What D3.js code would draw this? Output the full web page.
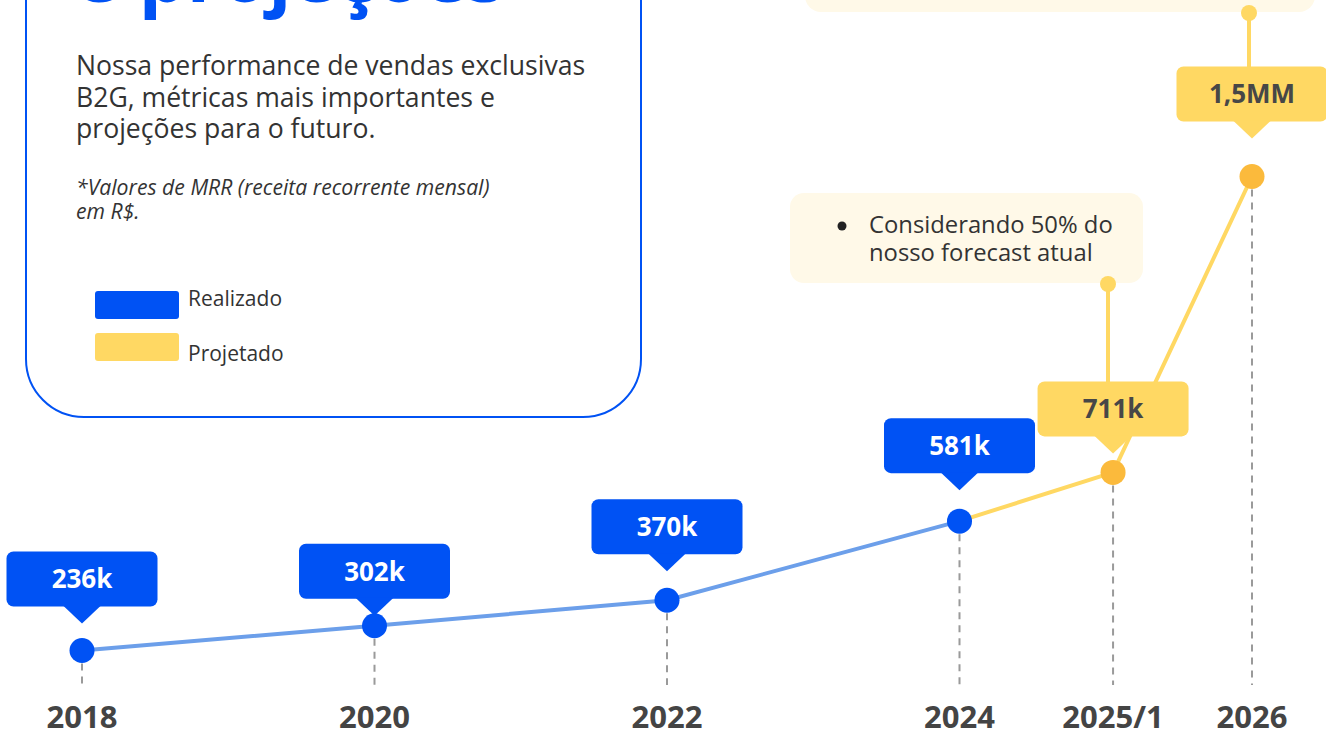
<!DOCTYPE html>
<html lang="pt-BR">
<head>
<meta charset="utf-8">
<script src="https://cdn.jsdelivr.net/npm/d3@7"></script>
<style>
  body { margin: 0; background: #fff; }
  svg { display: block; font-family: 'Open Sans', 'Noto Sans', sans-serif; }
</style>
</head>
<body>
<script>
// Dados do gráfico (MRR em milhares de R$)
const periods = ['2018', '2020', '2022', '2024', '2025/1', '2026'];
const periodTime = [2018, 2020, 2022, 2024, 2025.05, 2026];
const mrrValues = [236, 302, 370, 581, 711, 1500];
const mrrLabels = ['236k', '302k', '370k', '581k', '711k', '1,5MM'];
const status = ['real', 'real', 'real', 'real', 'proj', 'proj'];

const legendItems = ['Realizado', 'Projetado'];
const introLines = ['Nossa performance de vendas exclusivas', 'B2G, métricas mais importantes e', 'projeções para o futuro.'];
const noteLines = ['*Valores de MRR (receita recorrente mensal)', 'em R$.'];
const calloutLines = ['Considerando 50% do', 'nosso forecast atual'];

// layout dos rótulos (distância entre o ponto e a base da caixa)
const labelLift = [44, 27, 46, 48, 36, 55];

const WIDTH = 1326, HEIGHT = 730;
const BLUE = '#0052f4', YELLOW = '#ffd863', ORANGE = '#fbba3c', LIGHTBLUE = '#6c9fea',
    CREAM = '#fff9e8', DARK = '#333333';

const svg = d3.select('body')
    .append('svg')
        .attr('width', WIDTH)
        .attr('height', HEIGHT);

const x = d3.scaleLinear().domain([2018, 2026]).range([82, 1252]);
const y = d3.scaleLinear().domain([0, 1500]).range([739, 176.5]);

const data = periods.map((p, i) => ({
    period: p, t: periodTime[i], value: mrrValues[i], label: mrrLabels[i], status: status[i], lift: labelLift[i]
}));

// Painel da esquerda (título, texto e legenda)
svg.append('rect')
    .attr('x', 26).attr('y', -80)
    .attr('width', 615).attr('height', 497)
    .attr('rx', 58)
    .attr('fill', '#fff')
    .attr('stroke', BLUE)
    .attr('stroke-width', 2);

svg.append('text')
    .attr('x', 74).attr('y', 2)
    .attr('font-size', 76).attr('font-weight', 700)
    .attr('fill', BLUE)
    .text('e projeções');

svg.append('g').selectAll('text')
    .data(introLines)
    .enter().append('text')
        .attr('x', 76)
        .attr('y', (d, i) => 75 + i * 31.5)
        .attr('font-size', 26.6)
        .attr('fill', DARK)
        .text(d => d);

svg.append('g').selectAll('text')
    .data(noteLines)
    .enter().append('text')
        .attr('x', 76)
        .attr('y', (d, i) => 195 + i * 24)
        .attr('font-size', 21.2)
        .attr('font-style', 'italic')
        .attr('fill', DARK)
        .text(d => d);

const legendColor = d3.scaleOrdinal().domain(legendItems).range([BLUE, YELLOW]);

const legend = svg.selectAll('.legend')
    .data(legendItems)
    .enter().append('g')
        .attr('class', 'legend')
        .attr('transform', (d, i) => `translate(95,${291 + i * 42})`);

legend.append('rect')
    .attr('width', 84).attr('height', 28).attr('rx', 3)
    .attr('fill', legendColor);

legend.append('text')
    .attr('x', 93)
    .attr('y', (d, i) => i === 0 ? 15 : 28)
    .attr('font-size', 21)
    .attr('fill', DARK)
    .text(d => d);

// Caixas de observação (cremes) e seus conectores
svg.append('rect')
    .attr('x', 805).attr('y', -60)
    .attr('width', 510).attr('height', 72).attr('rx', 16)
    .attr('fill', CREAM);

svg.append('rect')
    .attr('x', 790).attr('y', 193)
    .attr('width', 353).attr('height', 90).attr('rx', 14)
    .attr('fill', CREAM);

svg.append('circle')
    .attr('cx', 842).attr('cy', 226).attr('r', 4.5)
    .attr('fill', '#222');

svg.append('g').selectAll('text')
    .data(calloutLines)
    .enter().append('text')
        .attr('x', 869)
        .attr('y', (d, i) => 233 + i * 28)
        .attr('font-size', 23.8)
        .attr('fill', DARK)
        .text(d => d);

const boxH = 55, boxW = 151;
const boxTop = d => y(d.value) - d.lift - boxH;

const connectors = [
    {x: 1108, y0: 284, d: data[4]},
    {x: 1249, y0: 13, d: data[5]}
];

svg.append('g').selectAll('line')
    .data(connectors)
    .enter().append('line')
        .attr('x1', c => c.x).attr('x2', c => c.x)
        .attr('y1', c => c.y0).attr('y2', c => boxTop(c.d) + 2)
        .attr('stroke', YELLOW).attr('stroke-width', 4);

svg.append('g').selectAll('circle')
    .data(connectors)
    .enter().append('circle')
        .attr('cx', c => c.x).attr('cy', c => c.y0).attr('r', 8)
        .attr('fill', YELLOW);

// Linhas verticais tracejadas
svg.append('g').selectAll('line')
    .data(data)
    .enter().append('line')
        .attr('x1', d => x(d.t)).attr('x2', d => x(d.t))
        .attr('y1', d => y(d.value)).attr('y2', 685)
        .attr('stroke', '#9a9a9a')
        .attr('stroke-width', 2)
        .attr('stroke-dasharray', '7,6');

// Linha realizada e linha projetada
const line = d3.line().x(d => x(d.t)).y(d => y(d.value));

svg.append('path')
    .datum(data.slice(0, 4))
    .attr('d', line)
    .attr('fill', 'none')
    .attr('stroke', LIGHTBLUE)
    .attr('stroke-width', 4);

svg.append('path')
    .datum(data.slice(3))
    .attr('d', line)
    .attr('fill', 'none')
    .attr('stroke', YELLOW)
    .attr('stroke-width', 4);

// Rótulos de valor (caixa com ponteiro)
const labels = svg.selectAll('.label')
    .data(data)
    .enter().append('g')
        .attr('class', 'label')
        .attr('transform', d => `translate(${x(d.t)},${boxTop(d)})`);

labels.append('rect')
    .attr('x', -boxW / 2).attr('y', 0)
    .attr('width', boxW).attr('height', boxH).attr('rx', 7)
    .attr('fill', d => d.status === 'real' ? BLUE : YELLOW);

labels.append('path')
    .attr('d', `M-19,${boxH - 1} L19,${boxH - 1} L0,${boxH + 17} Z`)
    .attr('fill', d => d.status === 'real' ? BLUE : YELLOW);

labels.append('text')
    .attr('x', 0).attr('y', boxH / 2)
    .attr('dy', '0.36em')
    .attr('text-anchor', 'middle')
    .attr('font-size', 26).attr('font-weight', 700)
    .attr('fill', d => d.status === 'real' ? '#fff' : '#474747')
    .text(d => d.label);

// Pontos
svg.append('g').selectAll('circle')
    .data(data)
    .enter().append('circle')
        .attr('cx', d => x(d.t)).attr('cy', d => y(d.value))
        .attr('r', 12.5)
        .attr('fill', d => d.status === 'real' ? BLUE : ORANGE);

// Eixo X: anos
svg.append('g').selectAll('text')
    .data(data)
    .enter().append('text')
        .attr('x', d => x(d.t))
        .attr('y', 728)
        .attr('text-anchor', 'middle')
        .attr('font-size', 31).attr('font-weight', 700)
        .attr('fill', '#444')
        .text(d => d.period);
</script>
</body>
</html>
